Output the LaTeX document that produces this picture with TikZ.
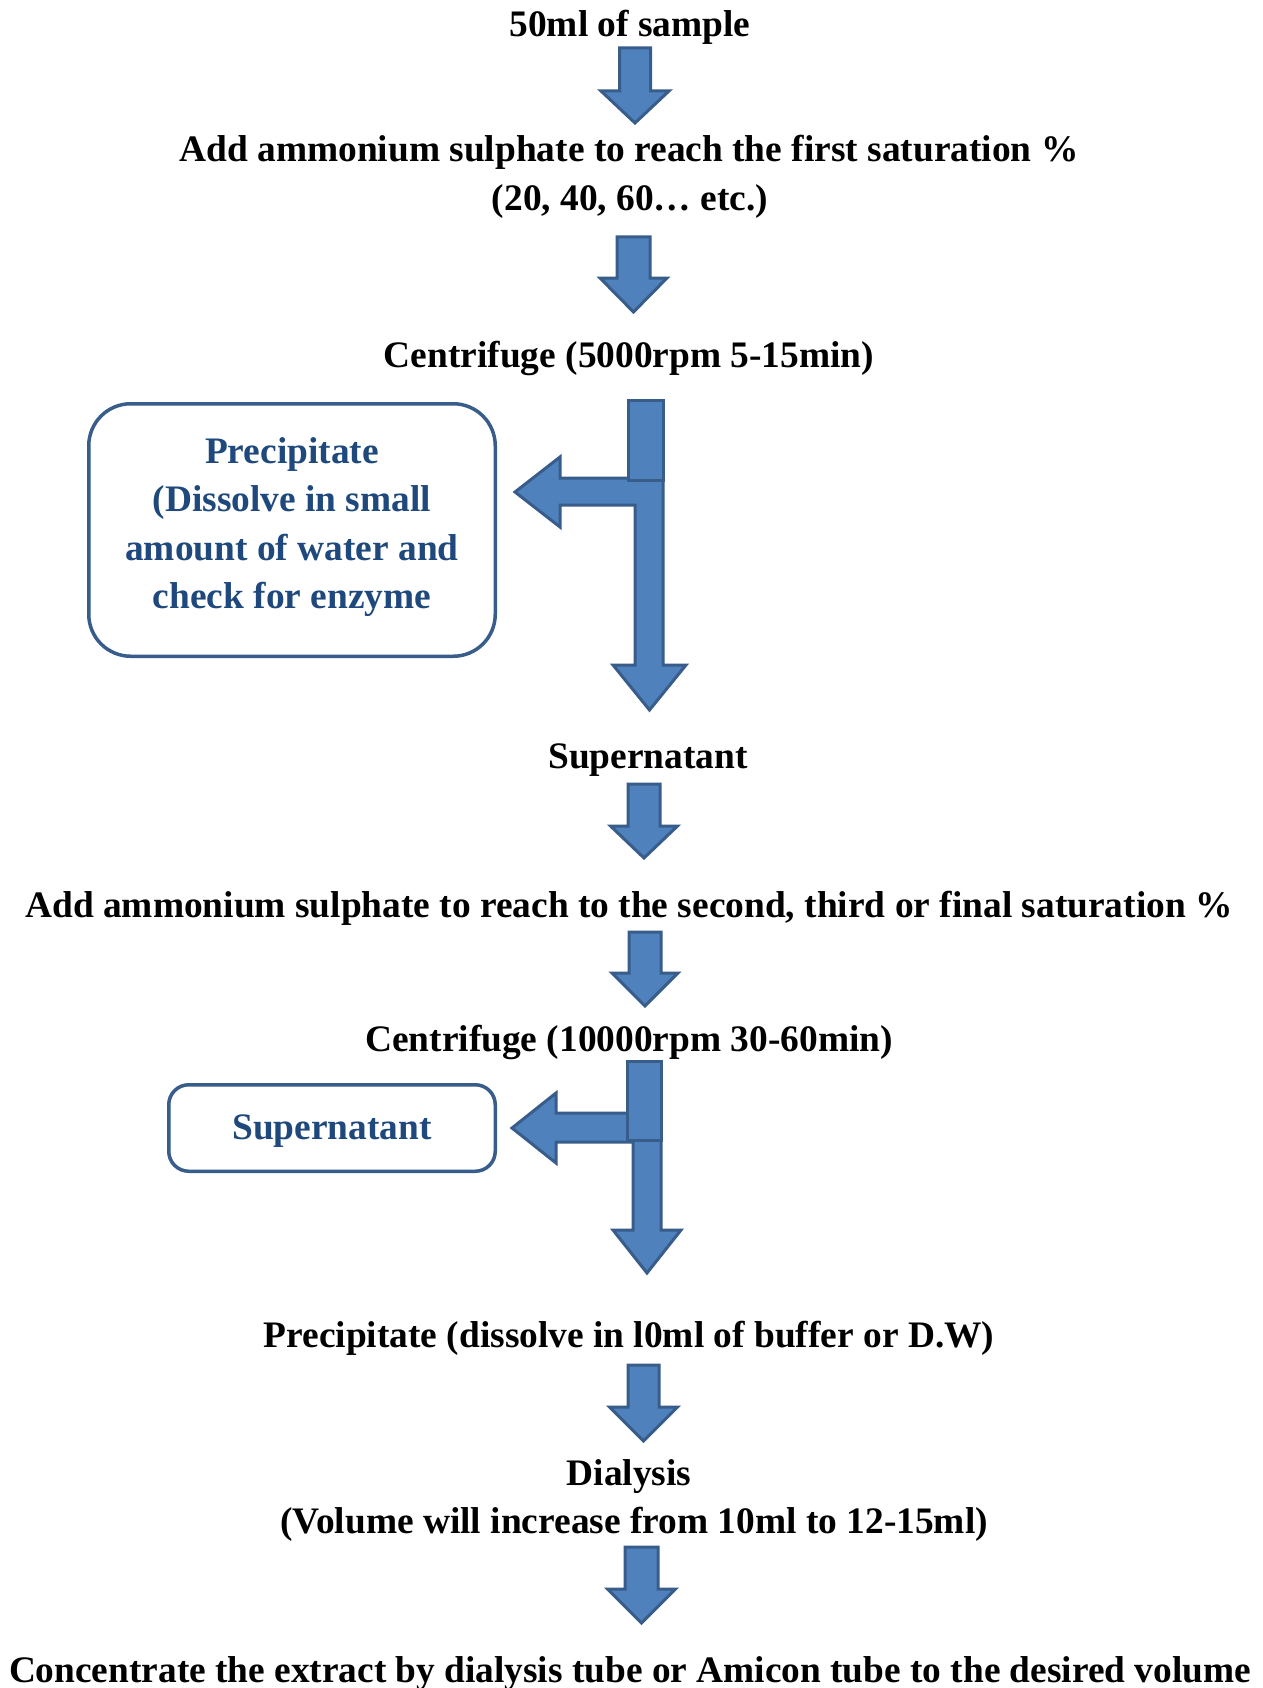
\documentclass[tikz,border=0pt]{standalone}
\usepackage{fontspec}
\usepackage{graphicx}
\setmainfont{Liberation Serif}
\definecolor{arrowfill}{HTML}{4F81BD}
\definecolor{arrowline}{HTML}{385D8A}
\definecolor{boxtext}{HTML}{1F497D}
\newcommand\blockdown[6]{%
  \filldraw[blockarrow] ({#1-#5},#2) -- ({#1+#5},#2) -- ({#1+#5},#3) -- ({#1+#6},#3)
    -- (#1,#4) -- ({#1-#6},#3) -- ({#1-#5},#3) -- cycle;}
\tikzset{
  blockarrow/.style={fill=arrowfill, draw=arrowline, line width=3pt, line join=miter},
  steptext/.style={inner sep=0pt, anchor=base, font=\fontsize{37.4}{48.5}\selectfont\bfseries, text=black},
  sidebox/.style={draw=arrowline, line width=3.5pt, fill=white, inner sep=0pt},
  boxlabel/.style={inner sep=0pt, font=\fontsize{37.4}{48.5}\selectfont\bfseries, text=boxtext, align=center}
}
\begin{document}
\begin{tikzpicture}[x=1pt,y=-1pt]
\useasboundingbox (0,0) rectangle (1262,1688);
\fill[white] (0,0) rectangle (1262,1688);

% texts
\node[steptext] (t1) at (630,37) {50ml of sample};
\node[steptext] (t2) at (629,162) {Add ammonium sulphate to reach the first saturation \%};
\node[steptext] (t2b) at (630,211) {(20, 40, 60… etc.)};
\node[steptext] (t3) at (629,367) {Centrifuge (5000rpm 5-15min)};
\node[steptext] (t4) at (648,768) {Supernatant};
\node[steptext] (t5) at (629,917) {Add ammonium sulphate to reach to the second, third or final saturation \%};
\node[steptext] (t6) at (629,1051) {Centrifuge (10000rpm 30-60min)};
\node[steptext] (t7) at (629,1347) {Precipitate (dissolve in l0ml of buffer or D.W)};
\node[steptext] (t8) at (629,1485) {Dialysis};
\node[steptext] (t8b) at (634,1533) {(Volume will increase from 10ml to 12-15ml)};
\node[steptext] (t9) at (630,1682) {\resizebox{1242pt}{\height}{Concentrate the extract by dialysis tube or Amicon tube to the desired volume}};

% side boxes
\node[sidebox, rounded corners=42pt, minimum width=406.5pt, minimum height=252.5pt] (b1) at (292,530) {};
\node[boxlabel] (b1t) at (292,527) {Precipitate\\(Dissolve in small\\amount of water and\\check for enzyme};
\node[sidebox, rounded corners=20pt, minimum width=326.5pt, minimum height=86.5pt] (b2) at (332,1128) {};
\node[boxlabel, anchor=base] (b2t) at (332,1139) {Supernatant};

% straight block arrows
\blockdown{635}{48}{91}{123}{15.5}{34}
\blockdown{633.5}{237}{278}{312}{16.5}{33.5}
\blockdown{644}{784}{826}{858}{16}{33.5}
\blockdown{645}{932}{973}{1006}{16}{33}
\blockdown{643.5}{1365}{1407}{1441}{15.5}{34}
\blockdown{641.5}{1547}{1589}{1623}{16.5}{34}

% split arrow 1
\filldraw[blockarrow] (663,478) -- (560,478) -- (560,457) -- (515,492) -- (560,527) -- (560,505)
  -- (635,505) -- (635,665) -- (613,665) -- (649.5,710) -- (686,665) -- (663,665) -- cycle;
\filldraw[blockarrow] (628,400) rectangle (663,480);

% split arrow 2
\filldraw[blockarrow] (661,1113) -- (556,1113) -- (556,1093) -- (512,1128) -- (556,1163) -- (556,1142)
  -- (633,1142) -- (633,1230) -- (613,1230) -- (647,1273) -- (681,1230) -- (661,1230) -- cycle;
\filldraw[blockarrow] (627,1061) rectangle (661,1140);
\end{tikzpicture}
\end{document}
